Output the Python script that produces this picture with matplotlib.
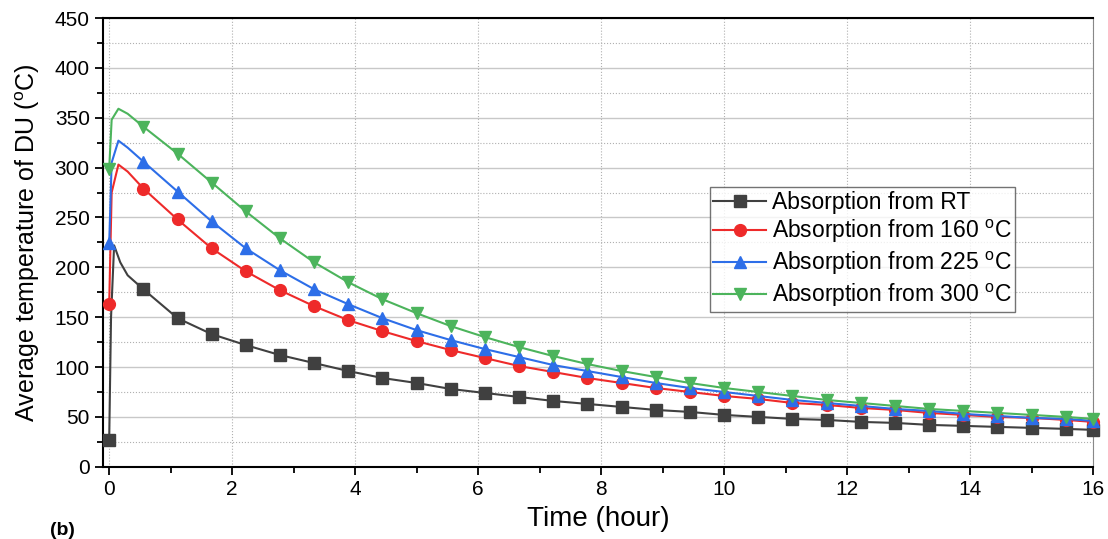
import numpy as np
import matplotlib.pyplot as plt
from matplotlib.ticker import MultipleLocator

plt.rcParams['font.family'] = ['Liberation Sans', 'DejaVu Sans']

# marker times (hour), shared by all series
t_mark = [0, 0.556, 1.111, 1.667, 2.222, 2.778, 3.333, 3.889, 4.444, 5.0,
          5.556, 6.111, 6.667, 7.222, 7.778, 8.333, 8.889, 9.444, 10.0, 10.556,
          11.111, 11.667, 12.222, 12.778, 13.333, 13.889, 14.444, 15.0, 15.556, 16.0]

rt = [27, 178, 149, 133, 122, 112, 104, 96, 89, 84,
      78, 74, 70, 66, 63, 60, 57, 55, 52, 50,
      48, 47, 45, 44, 42, 41, 40, 39, 38, 37]
t160 = [163, 279, 248, 219, 196, 177, 161, 147, 136, 126,
        117, 109, 101, 95, 89, 84, 79, 75, 71, 68,
        64, 62, 59, 57, 54, 52, 50, 49, 47, 45]
t225 = [224, 306, 276, 246, 219, 197, 178, 163, 149, 137,
        127, 118, 110, 102, 96, 90, 84, 79, 75, 71,
        67, 64, 61, 58, 56, 53, 51, 49, 48, 46]
t300 = [299, 341, 314, 285, 256, 229, 205, 185, 168, 154,
        141, 130, 120, 111, 103, 96, 90, 84, 79, 75,
        71, 67, 64, 61, 58, 56, 54, 52, 50, 48]

# extra points of the curves between t=0 and the second marker
rt_rise_t = [0.03, 0.08, 0.18, 0.3]
rt_rise = [150, 222, 205, 192]
t160_rise_t = [0.04, 0.15, 0.3]
t160_rise = [275, 303, 296]
t225_rise_t = [0.04, 0.15, 0.3]
t225_rise = [305, 327, 320]
t300_rise_t = [0.04, 0.15, 0.3]
t300_rise = [348, 359, 354]

series = [
    ("Absorption from RT", rt, rt_rise_t, rt_rise, '#404040', 's'),
    ("Absorption from 160 $^{\\mathregular{o}}$C", t160, t160_rise_t, t160_rise, '#ee2a2a', 'o'),
    ("Absorption from 225 $^{\\mathregular{o}}$C", t225, t225_rise_t, t225_rise, '#2d6ee8', '^'),
    ("Absorption from 300 $^{\\mathregular{o}}$C", t300, t300_rise_t, t300_rise, '#4cb45c', 'v'),
]

fig = plt.figure(figsize=(11.08, 5.39), dpi=100)
ax = fig.add_axes([0.093, 0.134, 0.8935, 0.8326])

for label, vals, rise_t, rise_v, col, mk in series:
    x = [t_mark[0]] + rise_t + t_mark[1:]
    y = [vals[0]] + rise_v + vals[1:]
    n = len(rise_t)
    marks = [0] + list(range(n + 1, len(x)))
    ax.plot(x, y, color=col, lw=1.5, marker=mk, ms=8.5, markevery=marks,
            label=label, clip_on=False, zorder=3)

ax.set_xlim(-0.1, 16)
ax.set_ylim(0, 450)
ax.xaxis.set_major_locator(MultipleLocator(2))
ax.xaxis.set_minor_locator(MultipleLocator(1))
ax.yaxis.set_major_locator(MultipleLocator(50))
ax.yaxis.set_minor_locator(MultipleLocator(25))
ax.tick_params(which='major', length=6, width=1.3, labelsize=15)
ax.tick_params(which='minor', length=4, width=1.3)

ax.grid(True, axis='y', which='major', color='#c8c8c8', lw=1.0, ls='-')
ax.grid(True, axis='y', which='minor', color='#b0b0b0', lw=0.8, ls=':')
ax.grid(True, axis='x', which='major', color='#b0b0b0', lw=0.8, ls=':')
ax.set_axisbelow(True)

for s in ax.spines.values():
    s.set_linewidth(1.5)
ax.spines['right'].set_linewidth(0.8)
ax.spines['right'].set_color('#888888')

ax.set_xlabel("Time (hour)", fontsize=20, labelpad=5)
ax.set_ylabel("Average temperature of DU ($^{\\mathregular{o}}$C)", fontsize=18, labelpad=9)

leg = ax.legend(loc='upper left', bbox_to_anchor=(0.613, 0.623), fontsize=16.5,
                frameon=True, fancybox=False, edgecolor='#505050',
                handlelength=2.3, borderpad=0.15, labelspacing=0.2,
                handletextpad=0.25, borderaxespad=0)
leg.get_frame().set_linewidth(1.0)

fig.text(0.045, 0.0, "(b)", fontsize=14, va='bottom', fontweight='bold')

fig.savefig("out.png", dpi=100)
